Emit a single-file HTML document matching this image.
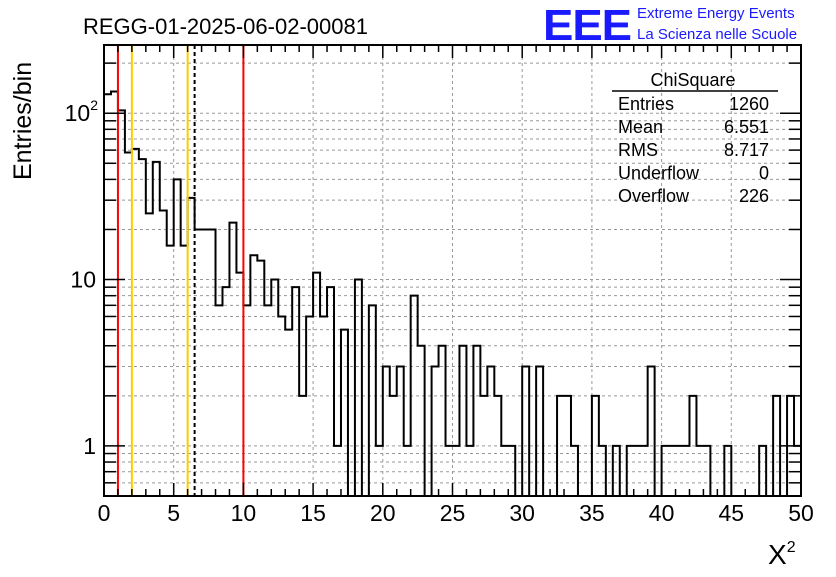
<!DOCTYPE html>
<html><head><meta charset="utf-8"><style>
body{margin:0;background:#fff;}
svg text{font-family:"Liberation Sans",sans-serif;}
</style></head><body>
<svg id="c" width="836" height="572" xmlns="http://www.w3.org/2000/svg">
<g id="grid"></g>
<g id="marks"></g>
<g id="ticks"></g>
<text x="83" y="34" font-size="22">REGG-01-2025-06-02-00081</text>
<text x="543" y="40" font-size="44" font-weight="bold" fill="#1a1aff" letter-spacing="-1" textLength="88" lengthAdjust="spacingAndGlyphs">EEE</text>
<text x="637" y="18" font-size="15" fill="#1a1aff">Extreme Energy Events</text>
<text x="637" y="39" font-size="15" fill="#1a1aff">La Scienza nelle Scuole</text>
<text transform="translate(31,180) rotate(-90)" font-size="25">Entries/bin</text>
<text x="768" y="564" font-size="28" font-family="Liberation Serif,serif">X<tspan font-size="16" dy="-12">2</tspan></text>
<g font-size="18">
<text x="693" y="86" text-anchor="middle">ChiSquare</text>
<line x1="612" y1="91" x2="778" y2="91" stroke="#000" stroke-width="1.5"/>
<text x="618" y="110">Entries</text><text x="769" y="110" text-anchor="end">1260</text>
<text x="618" y="133">Mean</text><text x="769" y="133" text-anchor="end">6.551</text>
<text x="618" y="156">RMS</text><text x="769" y="156" text-anchor="end">8.717</text>
<text x="618" y="179">Underflow</text><text x="769" y="179" text-anchor="end">0</text>
<text x="618" y="202">Overflow</text><text x="769" y="202" text-anchor="end">226</text>
</g>
</svg>
<script>
const counts = [130,135,104,58,61,53,25,51,26,16,40,16,31,20,20,20,7,9,22,11,
7,14,13,7,10,6,5,9,2,6,11,6,9,1,5,0,10,0,7,1,
3,2,3,1,8,4,0,3,4,1,1,4,1,4,2,3,2,1,1,0,
3,0,3,0,0,2,2,1,0,0,2,1,0,1,0,1,1,1,3,0,
1,1,1,1,2,1,1,0,0,1,0,0,0,0,1,0,2,0,2,1];
const binWidth = 0.5;
const xTicks = [0,5,10,15,20,25,30,35,40,45,50];
const redLines = [1,10];
const yellowLines = [2,6];
const dashedLines = [6.5];
const L=104,R=801,T=45,B=496;
const yMin=0.5,yMax=257;
const X=v=>L+(v-0)/(50-0)*(R-L);
const Y=v=>B-(Math.log10(v)-Math.log10(yMin))/(Math.log10(yMax)-Math.log10(yMin))*(B-T);
const NS="http://www.w3.org/2000/svg";
function mk(p,tag,a){const e=document.createElementNS(NS,tag);for(const k in a)e.setAttribute(k,a[k]);p.appendChild(e);return e;}
const grid=document.getElementById('grid'),marks=document.getElementById('marks'),ticks=document.getElementById('ticks');
for(const t of xTicks){if(t>0&&t<50){const g=mk(grid,'line',{x1:X(t),x2:X(t),y1:T,y2:B,stroke:'#999','stroke-dasharray':'3,3','stroke-width':1});

}}
for(let d=0.1;d<=100;d*=10){for(let m=1;m<=9;m++){const v=d*m;if(v<=yMin||v>=yMax)continue;
const g=mk(grid,'line',{x1:L,x2:R,y1:Y(v),y2:Y(v),stroke:'#999','stroke-dasharray':'3,3','stroke-width':1});


const major=(m===1);
const tk=mk(ticks,'line',{x1:L,x2:L+(major?21:12),y1:Y(v),y2:Y(v),stroke:'#000','stroke-width':1.5});


const tk2=mk(ticks,'line',{x1:R,x2:R-(major?21:12),y1:Y(v),y2:Y(v),stroke:'#000','stroke-width':1.5});

}}
let d='M'+L+','+B;
counts.forEach((c,i)=>{const y=c>0?Y(c):B;d+=' L'+X(i*binWidth)+','+y+' L'+X((i+1)*binWidth)+','+y;});
d+=' L'+R+','+B;
const h=mk(marks,'path',{d:d,fill:'none',stroke:'#000','stroke-width':2});


for(const v of redLines){const l=mk(marks,'line',{x1:X(v),x2:X(v),y1:T,y2:B,stroke:'#f00','stroke-width':2});

}
for(const v of yellowLines){const l=mk(marks,'line',{x1:X(v),x2:X(v),y1:T,y2:B,stroke:'#ffcc00','stroke-width':2});

}
for(const v of dashedLines){const l=mk(marks,'line',{x1:X(v),x2:X(v),y1:T,y2:B,stroke:'#000','stroke-width':2,'stroke-dasharray':'4,3'});

}
const f=mk(ticks,'rect',{x:L,y:T,width:R-L,height:B-T,fill:'none',stroke:'#000','stroke-width':2});


for(let v=0;v<=50;v++){const major=v%5===0;
const a=mk(ticks,'line',{x1:X(v),x2:X(v),y1:B,y2:B-(major?13:7),stroke:'#000','stroke-width':1.5});


const b=mk(ticks,'line',{x1:X(v),x2:X(v),y1:T,y2:T+(major?13:7),stroke:'#000','stroke-width':1.5});

}
for(const t of xTicks){const tx=mk(ticks,'text',{x:X(t),y:521,'font-size':23,'text-anchor':'middle'});tx.textContent=t;

}
const yl=[[100,'10'],[10,'10'],[1,'1']];
yl.forEach(([v,s],i)=>{const tx=mk(ticks,'text',{x:96,y:Y(v)+8,'font-size':23,'text-anchor':'end'});tx.textContent=s;
if(i===0){const sp=document.createElementNS(NS,'tspan');sp.setAttribute('font-size',14);sp.setAttribute('dy',-11);sp.textContent='2';tx.appendChild(sp);tx.setAttribute('x',98);}

});
</script>
</body></html>
